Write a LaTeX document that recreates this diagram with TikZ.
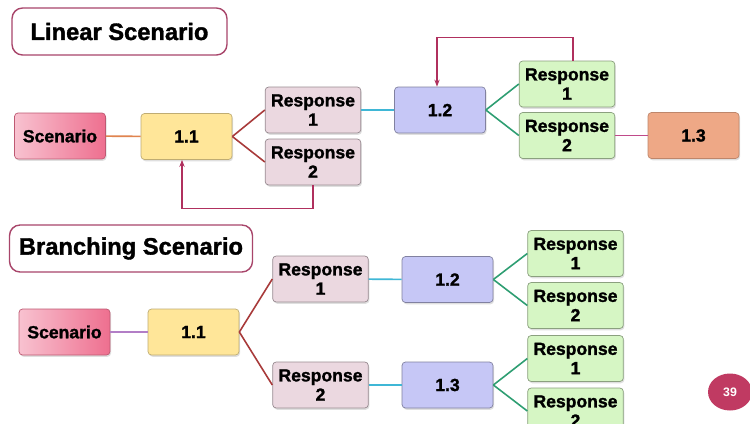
\documentclass[tikz,border=0pt]{standalone}
\usepackage{fontspec}
\setmainfont{Liberation Sans}
\newfontfamily\heavyfont[FakeBold=1.4]{Liberation Sans Bold}
\usetikzlibrary{arrows.meta,shadows,shapes.geometric}

\definecolor{scenpink}{HTML}{EE6F8F}
\definecolor{scenlight}{HTML}{F8C2D0}
\definecolor{stepyellow}{HTML}{FFE699}
\definecolor{resppink}{HTML}{EBD8E0}
\definecolor{steplilac}{HTML}{C6C7F6}
\definecolor{respgreen}{HTML}{D6F6C4}
\definecolor{steporange}{HTML}{EEA886}
\definecolor{framered}{HTML}{A8456A}
\definecolor{wireorange}{HTML}{E0844F}
\definecolor{wirered}{HTML}{A83A3A}
\definecolor{wirecyan}{HTML}{3FB7D6}
\definecolor{wiregreen}{HTML}{2E9E72}
\definecolor{wiremagenta}{HTML}{C04A8A}
\definecolor{wirelilac}{HTML}{B27EC6}
\definecolor{loopred}{HTML}{B0305E}
\definecolor{pagered}{HTML}{C03A62}

\begin{document}
\begin{tikzpicture}[x=0.02cm,y=-0.02cm,
    box/.style={rounded corners=2pt,minimum width=1.82cm,minimum height=0.92cm,
      align=center,font=\heavyfont\fontsize{10}{11}\selectfont,
      drop shadow={opacity=0.25,shadow xshift=0.6pt,shadow yshift=-1pt}},
    scenbox/.style={box,draw=scenpink!80!black,left color=scenlight,right color=scenpink},
    yellowbox/.style={box,draw=stepyellow!75!black,fill=stepyellow},
    pinkbox/.style={box,draw=resppink!65!black,fill=resppink},
    lilacbox/.style={box,draw=steplilac!65!black,fill=steplilac},
    greenbox/.style={box,draw=respgreen!65!black,fill=respgreen},
    orangebox/.style={box,draw=steporange!80!black,fill=steporange},
    titlebox/.style={draw=framered,line width=0.8pt,fill=white,rounded corners=6pt,
      minimum height=0.94cm,font=\heavyfont\fontsize{13.5}{16}\selectfont},
    wire/.style={line width=0.9pt},
    loopline/.style={line width=0.9pt,draw=loopred,-{Stealth[length=4pt,width=3pt]}}]
  \clip (0,0) rectangle (750,423);
  \fill[white] (0,0) rectangle (750,423);

  % linear scenario
  \node (title1) at (119.5,31.5) [titlebox,minimum width=4.3cm] {Linear Scenario};
  \node (scen1) at (60,136) [scenbox] {Scenario};
  \node (lin11) at (186.5,136.5) [yellowbox] {1.1};
  \node (linr1) at (313,110) [pinkbox] {Response\\1};
  \node (linr2) at (313,162) [pinkbox] {Response\\2};
  \node (lin12) at (440,110) [lilacbox] {1.2};
  \node (ling1) at (567,84) [greenbox] {Response\\1};
  \node (ling2) at (567,135.5) [greenbox] {Response\\2};
  \node (lin13) at (693.5,135.5) [orangebox] {1.3};

  \draw[wire,wireorange] (scen1) -- (lin11);
  \draw[wire,wirered] (lin11.east) -- (linr1.west);
  \draw[wire,wirered] (lin11.east) -- (linr2.west);
  \draw[wire,wirecyan] (linr1) -- (lin12);
  \draw[wire,wiregreen] (lin12.east) -- (ling1.west);
  \draw[wire,wiregreen] (lin12.east) -- (ling2.west);
  \draw[wire,wiremagenta] (ling2) -- (lin13);
  \draw[loopline] (linr2.south) -- ++(0,23) -| ([xshift=-0.09cm]lin11.south);
  \draw[loopline] ([xshift=0.12cm]ling1.north) -- ++(0,-23) -| ([xshift=-0.06cm]lin12.north);

  % branching scenario
  \node (title2) at (131,248.5) [titlebox,minimum width=4.86cm] {Branching Scenario};
  \node (scen2) at (64.5,332) [scenbox] {Scenario};
  \node (br11) at (193.5,332) [yellowbox] {1.1};
  \node (brr1) at (320.5,279) [pinkbox] {Response\\1};
  \node (brr2) at (320.5,385) [pinkbox] {Response\\2};
  \node (br12) at (447.5,279.5) [lilacbox] {1.2};
  \node (br13) at (447.5,385) [lilacbox] {1.3};
  \node (brg1) at (575.5,253.5) [greenbox] {Response\\1};
  \node (brg2) at (575.5,305.5) [greenbox] {Response\\2};
  \node (brg3) at (575.5,358.5) [greenbox] {Response\\1};
  \node (brg4) at (575.5,411) [greenbox] {Response\\2};

  \draw[wire,wirelilac] (scen2) -- (br11);
  \draw[wire,wirered] (br11.east) -- (brr1.west);
  \draw[wire,wirered] (br11.east) -- (brr2.west);
  \draw[wire,wirecyan] (brr1) -- (br12);
  \draw[wire,wirecyan] (brr2) -- (br13);
  \draw[wire,wiregreen] (br12.east) -- (brg1.west);
  \draw[wire,wiregreen] (br12.east) -- (brg2.west);
  \draw[wire,wiregreen] (br13.east) -- (brg3.west);
  \draw[wire,wiregreen] (br13.east) -- (brg4.west);

  % page number
  \node (page) at (730,392) [ellipse,fill=pagered,minimum width=0.88cm,
    minimum height=0.74cm,inner sep=0pt,text=white,
    font=\bfseries\fontsize{7}{8}\selectfont] {39};
\end{tikzpicture}
\end{document}
